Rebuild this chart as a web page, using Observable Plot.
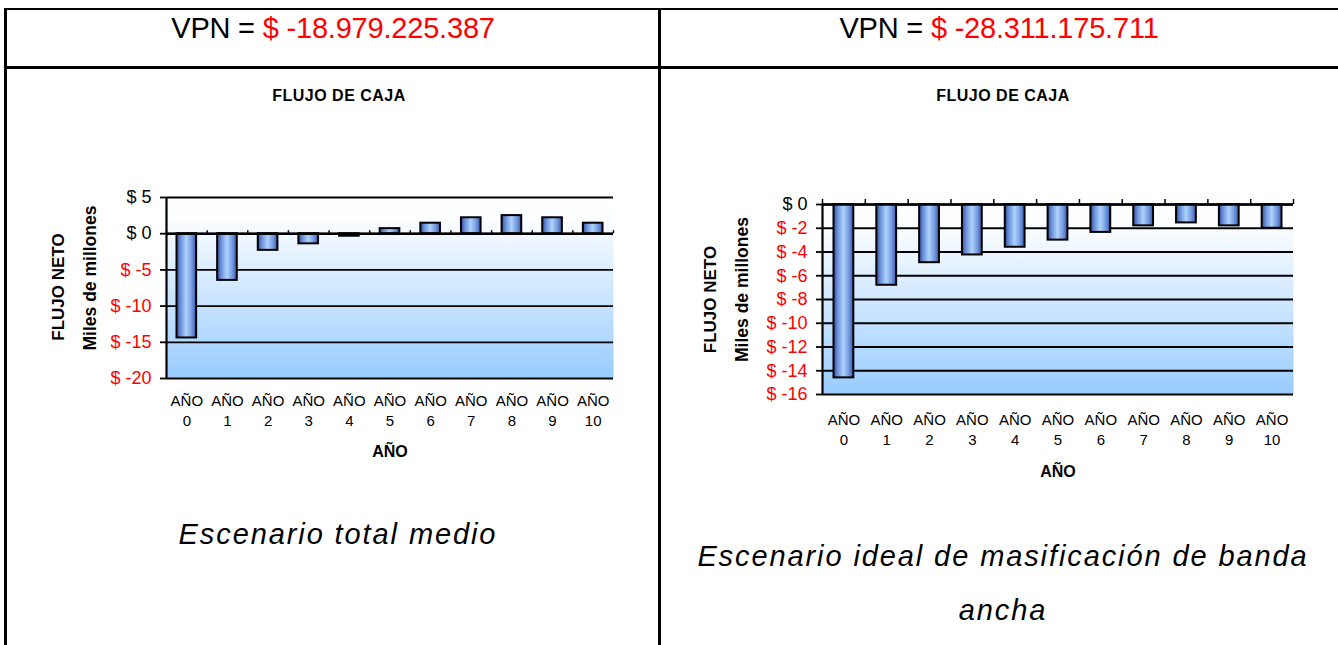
<!DOCTYPE html>
<html lang="es">
<head>
<meta charset="utf-8">
<script src="https://cdn.jsdelivr.net/npm/d3@7"></script>
<script src="https://cdn.jsdelivr.net/npm/@observablehq/plot@0.6"></script>
<style>
  html, body { margin: 0; padding: 0; background: #fff; }
  #page { position: relative; width: 1338px; height: 645px; overflow: hidden; background: #fff;
          font-family: "Liberation Sans", Arial, sans-serif; color: #000; }
  .line { position: absolute; background: #000; }
  .vpn { position: absolute; top: 14px; font-size: 29px; line-height: 28px; letter-spacing: -0.2px;
         white-space: nowrap; text-align: center; width: 560px; }
  .vpn .neg { color: #ff0000; }
  .ctitle { position: absolute; top: 88px; font-size: 16px; line-height: 15px; font-weight: bold;
            letter-spacing: 0.5px; white-space: nowrap; text-align: center; width: 300px; }
  .caption { position: absolute; font-size: 29px; font-style: italic; letter-spacing: 1.9px;
             white-space: nowrap; text-align: center; width: 700px; }
  svg.chart { position: absolute; }
</style>
</head>
<body>
<div id="page">
  <!-- table rules -->
  <div class="line" style="left:4px; top:7.5px; width:1334px; height:2.5px"></div>
  <div class="line" style="left:4px; top:66px; width:1334px; height:2.5px"></div>
  <div class="line" style="left:4px; top:7.5px; width:2.5px; height:640px"></div>
  <div class="line" style="left:658px; top:7.5px; width:3px; height:640px"></div>

  <div class="vpn" style="left:53px">VPN = <span class="neg">$ -18.979.225.387</span></div>
  <div class="vpn" style="left:719px">VPN = <span class="neg">$ -28.311.175.711</span></div>

  <div class="ctitle" style="left:189px">FLUJO DE CAJA</div>
  <div class="ctitle" style="left:853px">FLUJO DE CAJA</div>

  <div class="caption" style="left:-12px; top:520px; line-height:28px">Escenario total medio</div>
  <div class="caption" style="left:653px; top:529px; line-height:54px">Escenario ideal de masificación de banda<br>ancha</div>
</div>
<script>
// Net cash flow per year, in thousands of millions of pesos
const years = [0, 1, 2, 3, 4, 5, 6, 7, 8, 9, 10];
const flujoMedio = [-14.4, -6.45, -2.3, -1.4, -0.35, 0.7, 1.45, 2.2, 2.5, 2.2, 1.45];
const flujoIdeal = [-14.6, -6.8, -4.9, -4.25, -3.6, -3.0, -2.35, -1.8, -1.55, -1.8, -2.0];
const ticksMedio = [5, 0, -5, -10, -15, -20];
const ticksIdeal = [0, -2, -4, -6, -8, -10, -12, -14, -16];
const yTitle = "FLUJO NETO";
const ySubtitle = "Miles de millones";
const xTitle = "AÑO";

const FONT = "'Liberation Sans', Arial, sans-serif";

function cashFlowChart({id, values, ticks, domain, width, height, margin, left, top,
                        catTickLen, zeroWidth, labelDy, titleDy, yTitleDx, ySubDx, yTitleDy, ySubDy, inset}) {
  const rows = years.map((year, i) => ({year, value: values[i]}));
  const boundaries = d3.range(-0.5, years.length, 1);
  const money = d => `$ ${d}`;
  const svg = Plot.plot({
    width, height,
    marginLeft: margin[3], marginRight: margin[1], marginTop: margin[0], marginBottom: margin[2],
    x: {domain: [-0.5, years.length - 0.5], axis: null},
    y: {domain, axis: null},
    style: {fontFamily: FONT, background: "transparent", overflow: "visible", color: "black"},
    marks: [
      Plot.frame({fill: `url(#${id}-bg)`, stroke: "none"}),
      // horizontal gridlines
      Plot.ruleY(ticks, {y: d => d, stroke: "black", strokeWidth: 1.8}),
      // bars
      Plot.rect(rows, {
        x1: d => d.year - 0.5, x2: d => d.year + 0.5,
        y1: d => 0, y2: d => d.value,
        insetLeft: inset, insetRight: inset,
        fill: `url(#${id}-bar)`, stroke: "black", strokeWidth: 2
      }),
      // category axis at zero with ticks between categories
      Plot.ruleY([0], {y: d => d, stroke: "black", strokeWidth: zeroWidth}),
      Plot.ruleX(boundaries, {x: d => d, y1: d => 0, y2: d => 0, insetTop: -catTickLen, stroke: "black", strokeWidth: 1.5}),
      // value axis
      Plot.ruleX([-0.5], {x: d => d, stroke: "black", strokeWidth: 2.2}),
      Plot.ruleY(ticks, {y: d => d, x1: d => -0.5, x2: d => -0.5, insetLeft: -6, stroke: "black", strokeWidth: 1.8}),
      Plot.text(ticks.filter(d => d >= 0), {y: d => d, text: money, frameAnchor: "left", textAnchor: "end", dx: -15, fontSize: 18, fill: "black"}),
      Plot.text(ticks.filter(d => d < 0), {y: d => d, text: money, frameAnchor: "left", textAnchor: "end", dx: -15, fontSize: 18, fill: "#ff0000"}),
      // category labels
      Plot.text(years, {x: d => d, text: d => `AÑO\n${d}`, frameAnchor: "bottom", lineAnchor: "top", dy: labelDy, lineHeight: 1.3, fontSize: 15, letterSpacing: -0.6, fill: "black"}),
      // axis titles
      Plot.text([xTitle], {frameAnchor: "bottom", textAnchor: "middle", lineAnchor: "middle", dy: titleDy, fontSize: 16, fontWeight: "bold", fill: "black"}),
      Plot.text([yTitle], {frameAnchor: "left", textAnchor: "middle", rotate: -90, dx: yTitleDx, dy: yTitleDy, fontSize: 17, fontWeight: "bold", letterSpacing: 1, fill: "black"}),
      Plot.text([ySubtitle], {frameAnchor: "left", textAnchor: "middle", rotate: -90, dx: ySubDx, dy: ySubDy, fontSize: 17.5, fontWeight: "bold", fill: "black"})
    ]
  });

  // gradients for the plot background and the cylinder-like bars
  const defs = d3.select(svg).insert("defs", ":first-child");
  const bg = defs.append("linearGradient").attr("id", `${id}-bg`)
    .attr("x1", 0).attr("y1", 0).attr("x2", 0).attr("y2", 1);
  bg.append("stop").attr("offset", 0).attr("stop-color", "#ffffff");
  bg.append("stop").attr("offset", 0.12).attr("stop-color", "#fbfdff");
  bg.append("stop").attr("offset", 1).attr("stop-color", "#99ccff");
  const bar = defs.append("linearGradient").attr("id", `${id}-bar`)
    .attr("x1", 0).attr("y1", 0).attr("x2", 1).attr("y2", 0);
  [[0, "#33499a"], [0.2, "#6a8fda"], [0.5, "#aed3fb"], [0.8, "#6d93dc"], [1, "#3a53a6"]]
    .forEach(([o, c]) => bar.append("stop").attr("offset", o).attr("stop-color", c));

  svg.classList.add("chart");
  svg.style.left = `${left}px`;
  svg.style.top = `${top}px`;
  return svg;
}

const page = document.getElementById("page");

page.appendChild(cashFlowChart({
  id: "medio", values: flujoMedio, ticks: ticksMedio, domain: [-20, 5],
  width: 650, height: 400, left: 0, top: 80,
  margin: [117, 37, 102, 166],
  catTickLen: 3, zeroWidth: 2.6, inset: 10.5,
  labelDy: 14, titleDy: 73,
  yTitleDx: -108, ySubDx: -76, yTitleDy: -1, ySubDy: -10
}));

page.appendChild(cashFlowChart({
  id: "ideal", values: flujoIdeal, ticks: ticksIdeal, domain: [-16, 0],
  width: 678, height: 420, left: 660, top: 80,
  margin: [124, 45, 106, 162],
  catTickLen: 5, zeroWidth: 2.6, inset: 11.5,
  labelDy: 17, titleDy: 77,
  yTitleDx: -112, ySubDx: -80, yTitleDy: 0, ySubDy: -10
}));
</script>
</body>
</html>
